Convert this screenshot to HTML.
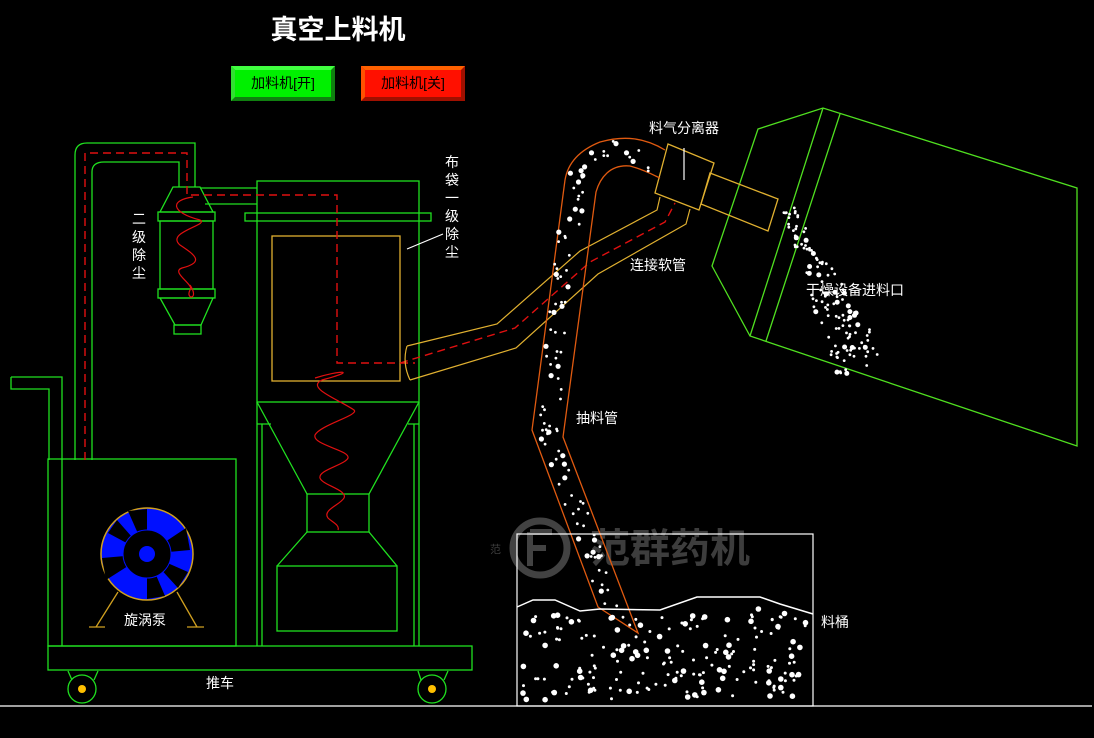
<!DOCTYPE html>
<html><head><meta charset="utf-8"><style>
html,body{margin:0;padding:0;background:#000;}
svg{display:block;}
text{font-family:"Liberation Sans","Noto Sans CJK SC","WenQuanYi Zen Hei",sans-serif;fill:#fff;}
</style></head><body>
<svg id="s" width="1094" height="738" viewBox="0 0 1094 738" xmlns="http://www.w3.org/2000/svg">
<rect width="1094" height="738" fill="#000"/>
<!-- watermark -->
<g opacity="0.9">
<circle cx="540" cy="548" r="27" fill="none" stroke="#4a4a4a" stroke-width="7"/>
<path d="M530 532 h22 M530 532 v34 M530 548 h16" stroke="#4a4a4a" stroke-width="6" fill="none"/>
<text x="590" y="562" font-size="40" font-weight="bold" style="fill:#444">范群药机</text>
<text x="490" y="553" font-size="11" style="fill:#444">范</text>
</g>
<!-- title -->
<text x="338" y="39" font-size="27" font-weight="bold" text-anchor="middle">真空上料机</text>
<!-- buttons -->
<rect x="231" y="66" width="104" height="35" fill="#108010"/>
<polygon points="231,66 335,66 331,70 235,70" fill="#40ff40"/>
<polygon points="231,66 235,70 235,97 231,101" fill="#30e030"/>
<rect x="235" y="70" width="96" height="27" fill="#00f000"/>
<text x="283" y="88" font-size="14" text-anchor="middle" style="fill:#000">加料机[开]</text>
<rect x="361" y="66" width="104" height="35" fill="#a01000"/>
<polygon points="361,66 465,66 461,70 365,70" fill="#ff6000"/>
<polygon points="361,66 365,70 365,97 361,101" fill="#ff5000"/>
<rect x="365" y="70" width="96" height="27" fill="#ff1000"/>
<text x="413" y="88" font-size="14" text-anchor="middle" style="fill:#000">加料机[关]</text>

<g fill="none" stroke="#20e020" stroke-width="1.3">
<!-- ducts -->
<path d="M75 460 V155 Q75 143 87 143 H195 V187"/>
<path d="M92 460 V172 Q92 162 104 162 H179 V187"/>
<path d="M11 377 H62 V460 M11 377 V389 H49 V460"/>
<!-- cyclone -->
<polygon points="173,187 200,187 213,212 160,212"/>
<rect x="158" y="212" width="57" height="9"/>
<rect x="160" y="221" width="53" height="68"/>
<rect x="158" y="289" width="57" height="9"/>
<polygon points="160,298 213,298 201,325 175,325"/>
<rect x="174" y="325" width="27" height="9"/>
<path d="M200 188 H257 M205 204 H257"/>
<!-- bag filter -->
<rect x="257" y="181" width="162" height="221"/>
<rect x="245" y="213" width="186" height="8"/>
<path d="M257 402 V646 M262 424 V646 M419 402 V646 M414 424 V646 M257 424 H271 M408 424 H419"/>
<path d="M257 402 L307 494 M419 402 L369 494"/>
<rect x="307" y="494" width="62" height="38"/>
<path d="M307 532 L277 566 M369 532 L397 566"/>
<rect x="277" y="566" width="120" height="65"/>
<!-- pump box -->
<rect x="48" y="459" width="188" height="187"/>
<path d="M62 459 V646"/>
<!-- cart -->
<rect x="48" y="646" width="424" height="24"/>
<circle cx="82" cy="689" r="14"/><circle cx="432" cy="689" r="14"/>
<path d="M68 671 L72 680 M98 671 L94 680 M418 671 L421 680 M448 671 L444 680"/>
<!-- dryer -->
<polygon points="758,129 823,108 1077,188 1077,446 750,336 712,266" stroke="#50e020"/>
<path d="M823 108 L750 336 M840 114 L766 341" stroke="#50e020"/>
</g>
<circle cx="82" cy="689" r="4" fill="#ffc000"/><circle cx="432" cy="689" r="4" fill="#ffc000"/>
<!-- yellow filter bag -->
<rect x="272" y="236" width="128" height="145" fill="none" stroke="#e0b030" stroke-width="1.3"/>
<line x1="407" y1="249" x2="443" y2="234" stroke="#fff" stroke-width="1.2"/>
<!-- fan -->
<circle cx="147" cy="554" r="46" fill="#0010ff" stroke="#d0a020" stroke-width="1.5"/>
<g fill="#000">
<polygon points="147,554 128,511 147,509" /><polygon points="147,554 186,528 190,550"/>
<polygon points="147,554 165,596 147,599"/><polygon points="147,554 106,580 102,558"/>
<polygon points="147,554 108,533 117,520"/><polygon points="147,554 188,572 178,588"/>
</g>
<circle cx="147" cy="554" r="24" fill="#000" stroke="#0010ff" stroke-width="1"/>
<circle cx="147" cy="554" r="8" fill="#0010ff"/>
<g stroke="#d0a020" stroke-width="1.3"><path d="M118 592 L96 627 M177 592 L197 627 M89 627 H105 M187 627 H204"/></g>
<!-- red dashed airflow -->
<path d="M85 460 V153 H187 V195 H337 V363 H415" fill="none" stroke="#e01010" stroke-width="1.4" stroke-dasharray="8,5"/>
<path d="M400 363 L515 328 L590 262 L665 222 L675 203" fill="none" stroke="#e01010" stroke-width="1.4" stroke-dasharray="8,5"/>
<!-- red spirals -->
<path d="M193 197 C170 200 170 212 200 220 C210 225 165 232 180 245 C195 255 205 262 182 268 C170 272 195 285 190 290 C185 300 200 300 190 285" fill="none" stroke="#e01010" stroke-width="1.2"/>
<path d="M315 378 C340 370 360 370 322 380 C305 388 340 400 354 410 C360 415 320 425 315 435 C312 445 350 450 348 458 C345 465 318 470 320 478 C322 485 348 490 344 498 C340 505 322 510 328 518 C332 522 340 525 338 530" fill="none" stroke="#e01010" stroke-width="1.2"/>
<!-- hose -->
<path d="M407 346 L497 324 L580 251 L657 210 L660 197" fill="none" stroke="#e0b030" stroke-width="1.2"/>
<path d="M410 380 L516 348 L598 274 L686 224 L690 209" fill="none" stroke="#e0b030" stroke-width="1.2"/>
<path d="M407 346 Q402 363 410 380" fill="none" stroke="#e0b030" stroke-width="1.2"/>
<!-- separator -->
<polygon points="668,144 714,163 699,210 655,193" fill="none" stroke="#e0b030" stroke-width="1.3"/>
<polygon points="710,173 778,199 768,231 701,204" fill="none" stroke="#e0b030" stroke-width="1.3"/>
<line x1="684" y1="148" x2="684" y2="180" stroke="#fff" stroke-width="1.2"/>
<!-- suction pipe -->
<path d="M665 150 C645 138 625 135 600 142 C580 150 568 162 565 180 L532 430 L598 607 L638 633 L563 437 L596 192 C600 178 610 164 630 166 C645 170 655 176 660 178" fill="none" stroke="#e05a10" stroke-width="1.3"/>
<!-- bucket -->
<rect x="517" y="534" width="296" height="172" fill="none" stroke="#fff" stroke-width="1.2"/>
<path d="M517 607 L533 600 L555 600 L580 611 L600 609 L660 610 L697 597 L760 597 L780 604 L813 614" fill="none" stroke="#fff" stroke-width="1.5"/>
<line x1="0" y1="706" x2="1092" y2="706" stroke="#fff" stroke-width="1.2"/>
<g id="dots" fill="#fff"></g>
<!-- labels -->
<g font-size="14">
<text x="139" y="224" text-anchor="middle">二</text><text x="139" y="242" text-anchor="middle">级</text>
<text x="139" y="260" text-anchor="middle">除</text><text x="139" y="278" text-anchor="middle">尘</text>
<text x="452" y="167" text-anchor="middle">布</text><text x="452" y="185" text-anchor="middle">袋</text>
<text x="452" y="203" text-anchor="middle">一</text><text x="452" y="221" text-anchor="middle">级</text>
<text x="452" y="239" text-anchor="middle">除</text><text x="452" y="257" text-anchor="middle">尘</text>
<text x="145" y="625" text-anchor="middle">旋涡泵</text>
<text x="220" y="688" text-anchor="middle">推车</text>
<text x="684" y="133" text-anchor="middle">料气分离器</text>
<text x="658" y="270" text-anchor="middle">连接软管</text>
<text x="597" y="423" text-anchor="middle">抽料管</text>
<text x="855" y="295" text-anchor="middle">干燥设备进料口</text>
<text x="835" y="627" text-anchor="middle">料桶</text>
</g>
</svg>
<script>
(function(){
var g=document.getElementById('dots');var seed=7;
function r(){seed=(seed*16807)%2147483647;return seed/2147483647;}
function dot(x,y,rad){var c=document.createElementNS('http://www.w3.org/2000/svg','circle');c.setAttribute('cx',x.toFixed(1));c.setAttribute('cy',y.toFixed(1));c.setAttribute('r',rad.toFixed(1));g.appendChild(c);}
var surf=[[517,607],[533,600],[555,600],[580,611],[600,609],[660,610],[697,597],[760,597],[780,604],[813,614]];
function sy(x){for(var i=0;i<surf.length-1;i++){if(x>=surf[i][0]&&x<=surf[i+1][0]){var t=(x-surf[i][0])/(surf[i+1][0]-surf[i][0]);return surf[i][1]+t*(surf[i+1][1]-surf[i][1]);}}return 610;}
for(var i=0;i<190;i++){var x=523+r()*284;var y0=sy(x)+8;var y=y0+r()*(700-y0);dot(x,y,r()<0.3?2.8:1.5);}
var p=[[617,622],[580,520],[548,432],[565,250],[580,170],[610,150],[652,164]];
for(var k=0;k<p.length-1;k++){var a=p[k],b=p[k+1];var dx=b[0]-a[0],dy=b[1]-a[1];var L=Math.sqrt(dx*dx+dy*dy);var n=Math.round(L/5);for(var j=0;j<n;j++){var t=r();var o=(r()-0.5)*20;dot(a[0]+dx*t-dy/L*o,a[1]+dy*t+dx/L*o,r()<0.3?2.6:1.4);}}
for(var i=0;i<130;i++){var t=r();var cx=788+t*75,cy=208+t*162;var w=6+t*22;var o=(r()-0.5)*2*w;dot(cx+o*0.9,cy-o*0.4,r()<0.15?2.5:1.4);}
})();
</script>
</body></html>
